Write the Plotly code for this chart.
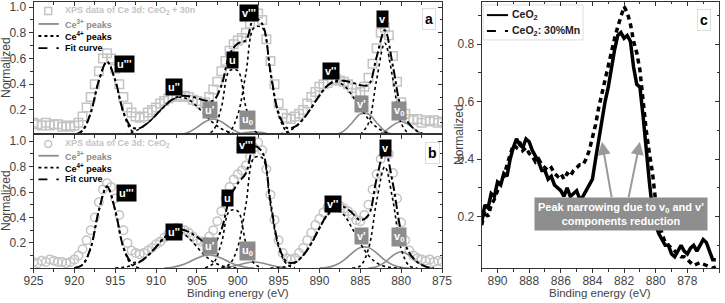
import plotly.graph_objects as go

# ---------------- data: panels a and b (XPS spectra) ----------------
DATA_E = [925, 924.5, 924, 923.5, 923, 922.5, 922, 921.5, 921, 920.5,
          920, 919.5, 919, 918.5, 918, 917.5, 917, 916.5, 916, 915.5,
          915, 914.5, 914, 913.5, 913, 912.5, 912, 911.5, 911, 910.5,
          910, 909.5, 909, 908.5, 908, 907.5, 907, 906.5, 906, 905.5,
          905, 904.5, 904, 903.5, 903, 902.5, 902, 901.5, 901, 900.5,
          900, 899.5, 899, 898.5, 898, 897.5, 897, 896.5, 896, 895.5,
          895, 894.5, 894, 893.5, 893, 892.5, 892, 891.5, 891, 890.5,
          890, 889.5, 889, 888.5, 888, 887.5, 887, 886.5, 886, 885.5,
          885, 884.5, 884, 883.5, 883, 882.5, 882, 881.5, 881, 880.5,
          880, 879.5, 879, 878.5, 878, 877.5, 877, 876.5, 876, 875.5, 875]

A_DATA = [0.10, 0.09, 0.08, 0.10, 0.08, 0.09, 0.09, 0.07, 0.08, 0.07,
          0.08, 0.10, 0.15, 0.22, 0.30, 0.40, 0.50, 0.60, 0.64, 0.60,
          0.52, 0.40, 0.30, 0.22, 0.18, 0.15, 0.14, 0.15, 0.18, 0.20,
          0.22, 0.25, 0.27, 0.29, 0.30, 0.31, 0.30, 0.31, 0.30, 0.28,
          0.27, 0.25, 0.26, 0.30, 0.36, 0.42, 0.50, 0.58, 0.66, 0.71,
          0.74, 0.76, 0.80, 0.87, 0.93, 0.95, 0.90, 0.75, 0.58, 0.40,
          0.25, 0.17, 0.14, 0.13, 0.15, 0.17, 0.20, 0.25, 0.30, 0.34,
          0.38, 0.40, 0.41, 0.43, 0.44, 0.43, 0.42, 0.40, 0.37, 0.33,
          0.34, 0.38, 0.45, 0.56, 0.68, 0.80, 0.84, 0.78, 0.62, 0.42,
          0.26, 0.17, 0.13, 0.12, 0.13, 0.10, 0.12, 0.11, 0.12, 0.10, 0.11]

B_DATA = [0.05, 0.04, 0.06, 0.05, 0.07, 0.06, 0.05, 0.05, 0.04, 0.05,
          0.07, 0.10, 0.15, 0.22, 0.30, 0.40, 0.52, 0.62, 0.67, 0.64,
          0.55, 0.42, 0.30, 0.20, 0.14, 0.12, 0.11, 0.12, 0.14, 0.16,
          0.19, 0.21, 0.24, 0.27, 0.30, 0.32, 0.31, 0.30, 0.28, 0.25,
          0.22, 0.21, 0.21, 0.25, 0.30, 0.37, 0.45, 0.55, 0.64, 0.70,
          0.74, 0.77, 0.81, 0.88, 0.95, 0.99, 0.93, 0.78, 0.58, 0.38,
          0.22, 0.12, 0.08, 0.07, 0.08, 0.12, 0.16, 0.22, 0.28, 0.34,
          0.39, 0.44, 0.48, 0.50, 0.50, 0.49, 0.47, 0.45, 0.42, 0.38,
          0.37, 0.42, 0.50, 0.62, 0.74, 0.86, 0.93, 0.90, 0.75, 0.55,
          0.36, 0.22, 0.14, 0.10, 0.08, 0.07, 0.06, 0.07, 0.05, 0.06, 0.05]

# ---------------- fitted components, panel a ----------------
A_U3_E = [920, 919, 918, 917, 916, 915, 914, 913, 912]
A_U3_Y = [0.005, 0.040, 0.177, 0.428, 0.575, 0.428, 0.177, 0.040, 0.005]
A_U2_E = [916, 915, 914, 913, 912, 911, 910, 909, 908, 907, 906, 905, 904, 903, 902, 901, 900, 899, 898]
A_U2_Y = [0.001, 0.004, 0.010, 0.026, 0.054, 0.100, 0.162, 0.228, 0.280, 0.300, 0.280, 0.228, 0.162, 0.100, 0.054, 0.026, 0.010, 0.004, 0.001]
A_U1_E = [909, 908, 907, 906, 905, 904, 903, 902, 901, 900, 899, 898, 897]
A_U1_Y = [0.000, 0.002, 0.008, 0.027, 0.065, 0.109, 0.130, 0.109, 0.065, 0.027, 0.008, 0.002, 0.000]
A_U_E = [904, 903, 902, 901, 900, 899, 898, 897]
A_U_Y = [0.003, 0.042, 0.221, 0.505, 0.505, 0.221, 0.042, 0.003]
A_U0_E = [902, 901, 900, 899, 898, 897, 896, 895, 894]
A_U0_Y = [0.001, 0.004, 0.012, 0.024, 0.030, 0.024, 0.012, 0.004, 0.001]
A_V3_E = [902, 901, 900, 899, 898, 897, 896, 895, 894, 893]
A_V3_Y = [0.004, 0.031, 0.162, 0.485, 0.840, 0.840, 0.485, 0.162, 0.031, 0.004]
A_V2_E = [897, 896, 895, 894, 893, 892, 891, 890, 889, 888, 887, 886, 885, 884, 883, 882, 881, 880, 879]
A_V2_Y = [0.001, 0.004, 0.011, 0.029, 0.066, 0.129, 0.216, 0.312, 0.390, 0.420, 0.390, 0.312, 0.216, 0.129, 0.066, 0.029, 0.011, 0.004, 0.001]
A_V1_E = [889, 888, 887, 886, 885, 884, 883, 882, 881, 880]
A_V1_Y = [0.001, 0.008, 0.037, 0.101, 0.169, 0.169, 0.101, 0.037, 0.008, 0.001]
A_V_E = [885, 884, 883, 882, 881, 880, 879]
A_V_Y = [0.008, 0.097, 0.437, 0.720, 0.437, 0.097, 0.008]
A_V0_E = [884, 883, 882, 881, 880, 879, 878, 877, 876]
A_V0_Y = [0.001, 0.008, 0.034, 0.082, 0.110, 0.082, 0.034, 0.008, 0.001]

# ---------------- fitted components, panel b ----------------
B_U3_E = [920, 919, 918, 917, 916, 915, 914, 913, 912]
B_U3_Y = [0.003, 0.028, 0.161, 0.456, 0.645, 0.456, 0.161, 0.028, 0.003]
B_U2_E = [915, 914, 913, 912, 911, 910, 909, 908, 907, 906, 905, 904, 903, 902, 901, 900]
B_U2_Y = [0.002, 0.007, 0.021, 0.050, 0.100, 0.168, 0.239, 0.284, 0.284, 0.239, 0.168, 0.100, 0.050, 0.021, 0.007, 0.002]
B_U1_E = [909, 908, 907, 906, 905, 904, 903, 902, 901, 900, 899, 898]
B_U1_Y = [0.002, 0.008, 0.023, 0.048, 0.079, 0.102, 0.102, 0.079, 0.048, 0.023, 0.008, 0.002]
B_U_E = [904, 903, 902, 901, 900, 899, 898, 897]
B_U_Y = [0.003, 0.038, 0.198, 0.451, 0.451, 0.198, 0.038, 0.003]
B_U0_E = [902, 901, 900, 899, 898, 897, 896, 895, 894]
B_U0_Y = [0.003, 0.011, 0.025, 0.042, 0.050, 0.042, 0.025, 0.011, 0.003]
B_V3_E = [902, 901, 900, 899, 898, 897, 896, 895, 894, 893]
B_V3_Y = [0.004, 0.033, 0.167, 0.501, 0.869, 0.869, 0.501, 0.167, 0.033, 0.004]
B_V2_E = [896, 895, 894, 893, 892, 891, 890, 889, 888, 887, 886, 885, 884, 883, 882, 881, 880]
B_V2_Y = [0.001, 0.005, 0.015, 0.043, 0.101, 0.196, 0.315, 0.419, 0.460, 0.419, 0.315, 0.196, 0.101, 0.043, 0.015, 0.005, 0.001]
B_V1_E = [890, 889, 888, 887, 886, 885, 884, 883, 882, 881, 880, 879]
B_V1_Y = [0.002, 0.007, 0.026, 0.065, 0.120, 0.164, 0.164, 0.120, 0.065, 0.026, 0.007, 0.002]
B_V_E = [886, 885, 884, 883, 882, 881, 880, 879, 878]
B_V_Y = [0.001, 0.019, 0.153, 0.530, 0.800, 0.530, 0.153, 0.019, 0.001]
B_V0_E = [884, 883, 882, 881, 880, 879, 878, 877, 876]
B_V0_Y = [0.002, 0.013, 0.047, 0.101, 0.130, 0.101, 0.047, 0.013, 0.002]

# ---------------- panel c: v-region comparison ----------------
C_E = [891.0, 890.8, 890.6, 890.4, 890.2, 890.0, 889.8, 889.6, 889.4, 889.2,
       889.0, 888.8, 888.6, 888.4, 888.2, 888.0, 887.8, 887.6, 887.4, 887.2,
       887.0, 886.8, 886.6, 886.4, 886.2, 886.0, 885.8, 885.6, 885.4, 885.2,
       885.0, 884.8, 884.6, 884.4, 884.2, 884.0, 883.8, 883.6, 883.4, 883.2,
       883.0, 882.8, 882.6, 882.4, 882.2, 882.0, 881.8, 881.6, 881.4, 881.2,
       881.0, 880.8, 880.6, 880.4, 880.2, 880.0, 879.8, 879.6, 879.4, 879.2,
       879.0, 878.8, 878.6, 878.4, 878.2, 878.0, 877.8, 877.6, 877.4, 877.2,
       877.0, 876.8, 876.6, 876.4, 876.2]
C_CEO2 = [0.18, 0.24, 0.23, 0.28, 0.27, 0.32, 0.31, 0.35, 0.34, 0.40,
          0.44, 0.47, 0.45, 0.44, 0.47, 0.46, 0.43, 0.41, 0.39, 0.36,
          0.36, 0.33, 0.34, 0.31, 0.30, 0.29, 0.27, 0.30, 0.27, 0.28,
          0.29, 0.26, 0.27, 0.29, 0.31, 0.33, 0.40, 0.47, 0.53, 0.60,
          0.65, 0.72, 0.78, 0.83, 0.84, 0.82, 0.83, 0.81, 0.72, 0.66,
          0.65, 0.55, 0.42, 0.32, 0.22, 0.17, 0.14, 0.12, 0.10, 0.10,
          0.07, 0.06, 0.08, 0.10, 0.08, 0.07, 0.09, 0.10, 0.08, 0.10,
          0.12, 0.11, 0.08, 0.05, 0.05]
C_MN = [0.17, 0.22, 0.20, 0.24, 0.26, 0.29, 0.33, 0.34, 0.38, 0.42,
        0.45, 0.44, 0.46, 0.43, 0.44, 0.42, 0.41, 0.39, 0.40, 0.38,
        0.37, 0.36, 0.37, 0.35, 0.34, 0.35, 0.33, 0.35, 0.34, 0.36,
        0.37, 0.38, 0.38, 0.40, 0.43, 0.47, 0.52, 0.58, 0.63, 0.68,
        0.72, 0.77, 0.82, 0.86, 0.90, 0.93, 0.91, 0.87, 0.81, 0.77,
        0.71, 0.60, 0.50, 0.42, 0.35, 0.25, 0.18, 0.14, 0.11, 0.10,
        0.09, 0.08, 0.07, 0.06, 0.06, 0.05, 0.04, 0.03, 0.035, 0.04,
        0.035, 0.03, 0.025, 0.02, 0.025]

FONT = "Liberation Sans, Arial, sans-serif"
LIGHT = "#c4c4c4"
GRAY3 = "#8c8c8c"
AXC = "#333333"
TICKC = "#444444"

A_CE4 = [(A_U3_E, A_U3_Y), (A_U2_E, A_U2_Y), (A_U_E, A_U_Y), (A_V3_E, A_V3_Y), (A_V2_E, A_V2_Y), (A_V_E, A_V_Y)]
A_CE3 = [(A_U1_E, A_U1_Y), (A_U0_E, A_U0_Y), (A_V1_E, A_V1_Y), (A_V0_E, A_V0_Y)]
B_CE4 = [(B_U3_E, B_U3_Y), (B_U2_E, B_U2_Y), (B_U_E, B_U_Y), (B_V3_E, B_V3_Y), (B_V2_E, B_V2_Y), (B_V_E, B_V_Y)]
B_CE3 = [(B_U1_E, B_U1_Y), (B_U0_E, B_U0_Y), (B_V1_E, B_V1_Y), (B_V0_E, B_V0_Y)]


def envelope(components):
    acc = {}
    for es, ys in components:
        for e, y in zip(es, ys):
            acc[e] = acc.get(e, 0.0) + y
    keys = sorted(acc, reverse=True)
    return keys, [acc[k] for k in keys]


fig = go.Figure()


def add_panel(xa, ya, data_y, symbol, ce4, ce3):
    fig.add_trace(go.Scatter(x=DATA_E, y=data_y, mode="markers", xaxis=xa, yaxis=ya,
                             marker=dict(symbol=symbol, size=8.5, color=LIGHT,
                                         line=dict(color=LIGHT, width=1.5)),
                             showlegend=False, hoverinfo="skip"))
    for es, ys in ce3:
        fig.add_trace(go.Scatter(x=es, y=ys, mode="lines", xaxis=xa, yaxis=ya,
                                 line=dict(color=GRAY3, width=1.6, shape="spline"),
                                 showlegend=False, hoverinfo="skip"))
    for es, ys in ce4:
        fig.add_trace(go.Scatter(x=es, y=ys, mode="lines", xaxis=xa, yaxis=ya,
                                 line=dict(color="black", width=1.6, dash="dot", shape="spline"),
                                 showlegend=False, hoverinfo="skip"))
    fe, fy = envelope(ce4 + ce3)
    fig.add_trace(go.Scatter(x=fe, y=fy, mode="lines", xaxis=xa, yaxis=ya,
                             line=dict(color="black", width=2, dash="dashdot", shape="spline"),
                             showlegend=False, hoverinfo="skip"))


add_panel("x", "y", A_DATA, "square-open", A_CE4, A_CE3)
add_panel("x2", "y2", B_DATA, "circle-open", B_CE4, B_CE3)

fig.add_trace(go.Scatter(x=C_E, y=C_CEO2, mode="lines", xaxis="x3", yaxis="y3",
                         line=dict(color="black", width=3.5), showlegend=False, hoverinfo="skip"))
fig.add_trace(go.Scatter(x=C_E, y=C_MN, mode="lines", xaxis="x3", yaxis="y3",
                         line=dict(color="black", width=3.5, dash="5px,4px"), showlegend=False, hoverinfo="skip"))

# empty traces to realise the mirror (inside-tick) axes
for xa, ya in [("x4", "y4"), ("x5", "y5"), ("x6", "y6")]:
    fig.add_trace(go.Scatter(x=[], y=[], xaxis=xa, yaxis=ya, showlegend=False, hoverinfo="skip"))

XD_AB = [33.5 / 725, 442 / 725]
XD_C = [481.7 / 725, 719 / 725]
YD_A = [1 - 134.3 / 303, 1 - 2 / 303]
YD_B = [1 - 268.3 / 303, 1 - 134.3 / 303]
YD_C = [1 - 268.3 / 303, 1 - 1.5 / 303]

tickfont = dict(family=FONT, size=12, color=TICKC)


def xax(domain, rng, anchor, dtick, tick0, minor, labels, side="bottom", ticks="outside", overlaying=None):
    d = dict(domain=domain, range=rng, anchor=anchor, dtick=dtick, tick0=tick0,
             showline=True, linecolor=AXC, linewidth=1, mirror=True,
             ticks=ticks, ticklen=4, tickwidth=1, tickcolor=AXC,
             minor=dict(ticks=ticks, dtick=minor, tick0=tick0, ticklen=2.5, tickcolor=AXC),
             showticklabels=labels, tickfont=tickfont, showgrid=False, zeroline=False,
             side=side, fixedrange=True, automargin=False)
    if labels:
        d["ticklabelstandoff"] = -3
    if overlaying:
        d["overlaying"] = overlaying
    return d


def yax(domain, rng, anchor, side="left", ticks="outside", labels=True, overlaying=None):
    d = dict(domain=domain, range=rng, anchor=anchor, tickvals=[0.2, 0.4, 0.6, 0.8, 1.0],
             ticktext=["0.2", "0.4", "0.6", "0.8", "1.0"],
             showline=True, linecolor=AXC, linewidth=1, mirror=True,
             ticks=ticks, ticklen=4, tickwidth=1, tickcolor=AXC,
             minor=dict(ticks=ticks, dtick=0.1, tick0=0, ticklen=2.5, tickcolor=AXC),
             showticklabels=labels, tickfont=tickfont, showgrid=False, zeroline=False,
             side=side, fixedrange=True, automargin=False)
    if overlaying:
        d["overlaying"] = overlaying
    return d


fig.update_layout(
    width=725, height=303, margin=dict(l=0, r=0, t=0, b=0, autoexpand=False),
    paper_bgcolor="white", plot_bgcolor="white", showlegend=False,
    font=dict(family=FONT, color=TICKC),
    xaxis=xax(XD_AB, [925, 875], "y", 5, 925, 2.5, False),
    yaxis=yax(YD_A, [0.011, 1.039], "x"),
    xaxis2=xax(XD_AB, [925, 875], "y2", 5, 925, 2.5, True),
    yaxis2=yax(YD_B, [0, 1.055], "x2"),
    xaxis3=xax(XD_C, [891, 876], "y3", 2, 890, 1, True),
    yaxis3=yax(YD_C, [0.02, 0.948], "x3"),
    xaxis4=xax(XD_AB, [925, 875], "y4", 5, 925, 2.5, False, side="top", ticks="inside", overlaying="x"),
    yaxis4=yax(YD_A, [0.011, 1.039], "x4", side="right", ticks="inside", labels=False, overlaying="y"),
    xaxis5=xax(XD_AB, [925, 875], "y5", 5, 925, 2.5, False, side="top", ticks="inside", overlaying="x2"),
    yaxis5=yax(YD_B, [0, 1.055], "x5", side="right", ticks="inside", labels=False, overlaying="y2"),
    xaxis6=xax(XD_C, [891, 876], "y6", 2, 890, 1, False, side="top", ticks="inside", overlaying="x3"),
    yaxis6=yax(YD_C, [0.02, 0.948], "x6", side="right", ticks="inside", labels=False, overlaying="y3"),
)

ann = []
shapes = []

# axis titles
for x, y in [(6 / 725, 1 - 68 / 303), (6 / 725, 1 - 201 / 303), (459 / 725, 1 - 135 / 303)]:
    ann.append(dict(x=x, y=y, xref="paper", yref="paper", text="Normalized", textangle=-90,
                    xanchor="center", yanchor="middle",
                    showarrow=False, font=dict(family=FONT, size=12, color=TICKC)))
for x in [237.7 / 725, 600 / 725]:
    ann.append(dict(x=x, y=1 - 293 / 303, xref="paper", yref="paper", text="Binding energy (eV)",
                    xanchor="center", yanchor="middle",
                    showarrow=False, font=dict(family=FONT, size=11.5, color=TICKC)))

# peak labels
A_LABELS = [("u'''", 913.9, 0.56, "black"), ("u''", 907.8, 0.38, "black"), ("u'", 903.4, 0.20, GRAY3),
            ("u", 900.7, 0.59, "black"), ("u<sub>0</sub>", 898.8, 0.12, GRAY3), ("v'''", 898.6, 0.955, "black"),
            ("v''", 888.6, 0.50, "black"), ("v'", 884.8, 0.25, GRAY3), ("v", 882.3, 0.905, "black"),
            ("v<sub>0</sub>", 880.3, 0.195, GRAY3)]
B_LABELS = [("u'''", 913.6, 0.59, "black"), ("u''", 907.8, 0.285, "black"), ("u'", 903.4, 0.173, GRAY3),
            ("u", 901.25, 0.55, "black"), ("u<sub>0</sub>", 898.75, 0.14, GRAY3), ("v'''", 899.0, 0.97, "black"),
            ("v''", 888.4, 0.51, "black"), ("v'", 884.8, 0.252, GRAY3), ("v", 881.9, 0.95, "black"),
            ("v<sub>0</sub>", 880.3, 0.246, GRAY3)]
for labels, xr, yr in [(A_LABELS, "x", "y"), (B_LABELS, "x2", "y2")]:
    for t, x, y, bg in labels:
        ann.append(dict(x=x, y=y, xref=xr, yref=yr, text=t, showarrow=False, bgcolor=bg,
                        xanchor="center", yanchor="middle",
                        borderpad=2, font=dict(family=FONT, size=11, color="white", weight="bold")))

# panel letters
for t, xr, yr, x, y in [("a", "x domain", "y domain", 0.968, 0.868),
                        ("b", "x2 domain", "y2 domain", 0.977, 0.857),
                        ("c", "x3 domain", "y3 domain", 0.937, 0.929)]:
    ann.append(dict(x=x, y=y, xref=xr, yref=yr, text=t, showarrow=False, bgcolor="white",
                    xanchor="center", yanchor="middle",
                    bordercolor="#dddddd", borderwidth=1, borderpad=2,
                    font=dict(family=FONT, size=14, color="black", weight="bold")))

# legends of panels a and b
for xr, yr, rows, sym in [("x domain", "y domain", [0.932, 0.834, 0.743, 0.652], "rect"),
                          ("x2 domain", "y2 domain", [0.928, 0.840, 0.751, 0.664], "circle")]:
    first = "XPS data of Ce 3d: CeO<sub>2</sub> + 30n" if sym == "rect" else "XPS data of Ce 3d: CeO<sub>2</sub>"
    texts = [(first, LIGHT), ("Ce<sup>3+</sup> peaks", GRAY3), ("Ce<sup>4+</sup> peaks", "black"), ("Fit curve", "black")]
    for (t, c), yy in zip(texts, rows):
        ann.append(dict(x=0.071, y=yy, xref=xr, yref=yr, text=t, showarrow=False, xanchor="left",
                        yanchor="middle", font=dict(family=FONT, size=9, color=c, weight="bold")))
    dx, dy = 0.0085, 0.026
    shapes.append(dict(type=sym, xref=xr, yref=yr, x0=0.036 - dx, x1=0.036 + dx,
                       y0=rows[0] - dy, y1=rows[0] + dy, line=dict(color=LIGHT, width=1.5)))
    for yy, col, dash in [(rows[1], GRAY3, "solid"), (rows[2], "black", "dot"), (rows[3], "black", "dash")]:
        shapes.append(dict(type="line", xref=xr, yref=yr, x0=0.012, x1=0.062, y0=yy, y1=yy,
                           line=dict(color=col, width=1.8, dash=dash)))

# legend of panel c
shapes.append(dict(type="rect", xref="x3 domain", yref="y3 domain", x0=0.006, x1=0.427, y0=0.856, y1=0.987,
                   line=dict(color="#dddddd", width=1), fillcolor="white", layer="below"))
for yy, t, dash in [(0.949, "CeO<sub>2</sub>", "solid"), (0.889, "CeO<sub>2</sub>: 30%Mn", "dash")]:
    shapes.append(dict(type="line", xref="x3 domain", yref="y3 domain", x0=0.022, x1=0.111, y0=yy, y1=yy,
                       line=dict(color="black", width=2, dash=dash)))
    ann.append(dict(x=0.12, y=yy, xref="x3 domain", yref="y3 domain", text=t, showarrow=False, xanchor="left",
                    yanchor="middle", font=dict(family=FONT, size=10.5, color="#222222", weight="bold")))

# arrows and note in panel c
for hx, tx in [(883.4, 882.77), (881.0, 881.73)]:
    ann.append(dict(x=hx, y=0.46, ax=tx, ay=0.262, xref="x3", yref="y3", axref="x3", ayref="y3",
                    text="", showarrow=True, arrowhead=2, arrowsize=1.3, arrowwidth=2, arrowcolor="#9a9a9a"))
ann.append(dict(x=882.2, y=0.209, xref="x3", yref="y3",
                text="Peak narrowing due to v<sub>0</sub> and v'<br>components reduction",
                xanchor="center", yanchor="middle",
                showarrow=False, bgcolor="#8e8e8e", borderpad=3, align="center",
                font=dict(family=FONT, size=11, color="white", weight="bold")))

fig.update_layout(annotations=ann, shapes=shapes)
fig.write_html("out.html", config={"displayModeBar": False, "staticPlot": True},
               post_script="document.body.style.margin='0';document.body.style.padding='0';"
                           "document.documentElement.style.overflow='hidden';")
